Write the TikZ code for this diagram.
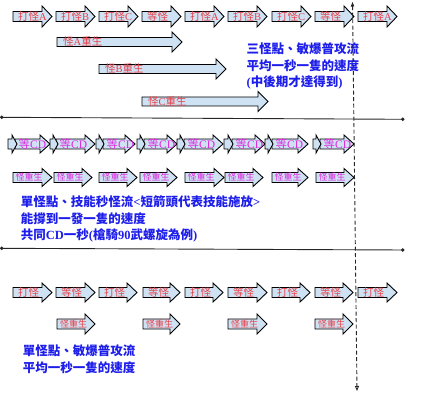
\documentclass[tikz,border=0pt]{standalone}
\usepackage{fontspec}
\setmainfont{Liberation Serif}
\newfontfamily\cjk{Noto Sans CJK TC}
\usetikzlibrary{arrows.meta}
\definecolor{afill}{RGB}{206,226,243}
\definecolor{lred}{RGB}{232,64,72}
\definecolor{lmag}{RGB}{222,40,222}
\definecolor{tblue}{RGB}{30,30,235}
\def\abBH{5}\def\abHH{10}\def\abHL{10}\def\abOff{5}
\newcommand\barrow[5]{%
  \draw[arrowbox] (#2,#4-\abBH) -- (#3-\abHL,#4-\abBH) -- (#3-\abHL,#4-\abHH) -- (#3,#4)
    -- (#3-\abHL,#4+\abHH) -- (#3-\abHL,#4+\abBH) -- (#2,#4+\abBH) -- cycle;
  \node[lbl] (#1) at (#2+\abOff,#4) {#5};}
\newcommand\sarrow[3]{%
  \draw[arrowbox] (#1,#3-\abBH) -- (#2-5,#3-\abBH) -- (#2-5,#3-\abHH) -- (#2,#3)
    -- (#2-5,#3+\abHH) -- (#2-5,#3+\abBH) -- (#1,#3+\abBH) -- cycle;}
\newcommand\lat[1]{{\rmfamily\bfseries #1}}
\tikzset{
  arrowbox/.style={draw=black, fill=afill, line width=0.9pt, line join=miter},
  lbl/.style={anchor=west, inner sep=0pt, text=lred, font=\fontsize{10.5}{12}\selectfont},
  btxt/.style={anchor=base west, inner sep=0pt, text=tblue, font=\cjk\bfseries\fontsize{12.5}{14}\selectfont},
  hline/.style={draw=black!85, line width=0.9pt, {Circle[length=3.5pt]}-{Circle[length=3.5pt]}},
  vdash/.style={draw=black!85, line width=0.9pt, dash pattern=on 4pt off 2.5pt,
    {Latex[length=5pt,width=4pt]}-{Triangle[open,length=5pt,width=4pt]}}
}
\begin{document}
\begin{tikzpicture}[x=1pt,y=-1pt]
\useasboundingbox (0,0) rectangle (427,411);
% ---------- section 1 ----------
\def\abBH{5}\def\abHH{10.5}
\barrow{a1}{13}{52}{16.5}{{\cjk 打怪}A}
\barrow{a2}{56}{95}{16.5}{{\cjk 打怪}B}
\barrow{a3}{99}{138}{16.5}{{\cjk 打怪}C}
\barrow{a4}{142}{181}{16.5}{{\cjk 等怪}}
\barrow{a5}{185}{224}{16.5}{{\cjk 打怪}A}
\barrow{a6}{228}{267}{16.5}{{\cjk 打怪}B}
\barrow{a7}{272}{311}{16.5}{{\cjk 打怪}C}
\barrow{a8}{315}{354}{16.5}{{\cjk 等怪}}
\barrow{a9}{358}{397}{16.5}{{\cjk 打怪}A}
\def\abBH{4.5}\def\abHH{10}\def\abOff{6}
\barrow{ra}{57}{182}{42}{{\cjk 怪}A{\cjk 重生}}
\barrow{rb}{99}{226}{69}{{\cjk 怪}B{\cjk 重生}}
\barrow{rc}{142}{268}{101.5}{{\cjk 怪}C{\cjk 重生}}
\node[btxt] (t11) at (246.5,53.7) {三怪點、敏爆普攻流};
\node[btxt] (t12) at (246.5,70.7) {平均一秒一隻的速度};
\node[btxt] (t13) at (246.5,86.2) {\lat{(}中後期才達得到\lat{)}};
% separator 1
\coordinate (l1a) at (0,117.3);
\coordinate (l1b) at (404.5,119.3);
\draw[hline] (l1a) -- (l1b);
% ---------- section 2 ----------
\begin{scope}[lbl/.append style={text=lmag, font=\fontsize{11.5}{13}\selectfont}]
\def\abBH{5}\def\abHH{9}\def\abOff{3.5}
\barrow{c1}{15}{50}{144}{{\cjk 等}CD}
\barrow{c2}{56}{95}{144}{{\cjk 等}CD}
\barrow{c3}{103}{135}{144}{{\cjk 等}CD}
\barrow{c4}{144}{177}{144}{{\cjk 等}CD}
\barrow{c5}{184}{223}{144}{{\cjk 等}CD}
\barrow{c6}{232}{265}{144}{{\cjk 等}CD}
\barrow{c7}{272}{308}{144}{{\cjk 等}CD}
\barrow{c8}{320}{354}{144}{{\cjk 等}CD}
\sarrow{8}{17}{144}
\sarrow{50}{58}{144}
\sarrow{96}{104}{144}
\sarrow{137}{145}{144}
\sarrow{177}{185}{144}
\sarrow{224}{233}{144}
\sarrow{265}{273}{144}
\sarrow{313}{321}{144}
\end{scope}
\begin{scope}[lbl/.append style={text=lmag, font=\cjk\fontsize{9}{10}\selectfont}]
\def\abBH{5}\def\abHH{9}\def\abOff{2.5}
\barrow{d1}{13}{52}{177.5}{怪重生}
\barrow{d2}{54}{92}{177.5}{怪重生}
\barrow{d3}{99}{137}{177.5}{怪重生}
\barrow{d4}{140}{177}{177.5}{怪重生}
\barrow{d5}{185}{224}{177.5}{怪重生}
\barrow{d6}{225}{263}{177.5}{怪重生}
\barrow{d7}{272}{308}{177.5}{怪重生}
\barrow{d8}{316}{354}{177.5}{怪重生}
\end{scope}
\node[btxt] (t21) at (20.7,206.3) {單怪點、技能秒怪流\lat{<}短箭頭代表技能施放\lat{>}};
\node[btxt] (t22) at (20.7,223.2) {能撐到一發一隻的速度};
\node[btxt] (t23) at (20.7,239.5) {共同\lat{CD}一秒\lat{(}槍騎\lat{90}武螺旋為例\lat{)}};
% separator 2
\coordinate (l2a) at (0,248.3);
\coordinate (l2b) at (404.5,250);
\draw[hline] (l2a) -- (l2b);
% ---------- section 3 ----------
\def\abBH{5}\def\abHH{9.5}\def\abOff{5}
\barrow{e1}{13}{52}{292.5}{{\cjk 打怪}}
\barrow{e2}{56}{95}{292.5}{{\cjk 等怪}}
\barrow{e3}{99}{137}{292.5}{{\cjk 打怪}}
\barrow{e4}{143}{180}{292.5}{{\cjk 等怪}}
\barrow{e5}{185}{223}{292.5}{{\cjk 打怪}}
\barrow{e6}{228}{267}{292.5}{{\cjk 等怪}}
\barrow{e7}{272}{310}{292.5}{{\cjk 打怪}}
\barrow{e8}{315}{353}{292.5}{{\cjk 等怪}}
\barrow{e9}{358}{397}{292.5}{{\cjk 打怪}}
\begin{scope}[lbl/.append style={font=\cjk\fontsize{9}{10}\selectfont}]
\def\abHH{10}\def\abOff{3}
\barrow{f1}{57}{95}{324}{怪重生}
\barrow{f2}{143}{180}{324}{怪重生}
\barrow{f3}{228}{267}{324}{怪重生}
\barrow{f4}{315}{353}{324}{怪重生}
\end{scope}
\node[btxt] (t31) at (22.7,355.2) {單怪點、敏爆普攻流};
\node[btxt] (t32) at (22.7,372.2) {平均一秒一隻的速度};
% dashed time marker
\coordinate (dtop) at (352.5,1.5);
\coordinate (dbot) at (357,391);
\draw[vdash] (dtop) -- (dbot);
\end{tikzpicture}
\end{document}
